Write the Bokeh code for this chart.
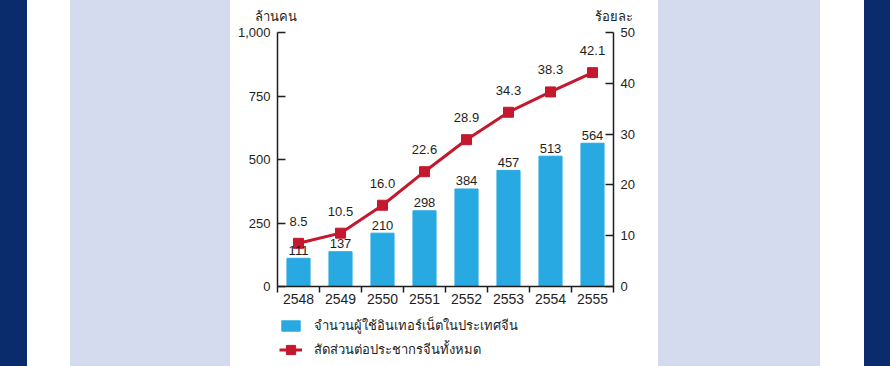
from bokeh.plotting import figure
from bokeh.models import (ColumnDataSource, Range1d, LinearAxis, FixedTicker,
                          NumeralTickFormatter, Label, Legend, LegendItem, Div)
from bokeh.layouts import row
from bokeh.embed import file_html
from bokeh.resources import INLINE
from bokeh.core.properties import value

# ---------------- data ----------------
years = [2548, 2549, 2550, 2551, 2552, 2553, 2554, 2555]
users = [111, 137, 210, 298, 384, 457, 513, 564]          # ล้านคน
share = [8.5, 10.5, 16.0, 22.6, 28.9, 34.3, 38.3, 42.1]   # ร้อยละ
left_ticks = [0, 250, 500, 750, 1000]
right_ticks = [0, 10, 20, 30, 40, 50]
bar_name = "จำนวนผู้ใช้อินเทอร์เน็ตในประเทศจีน"
line_name = "สัดส่วนต่อประชากรจีนทั้งหมด"
left_title = "ล้านคน"
right_title = "ร้อยละ"

# ---------------- style / geometry ----------------
NUM_FONT = "Liberation Sans"
THAI_FONT = "Noto Sans"
NAVY = "#0A2C6C"
LAVENDER = "#D5DBEF"
BLUE = "#29A9E1"
RED = "#C4182F"
INK = "#1E1E1E"
W, H = 428, 366
AX_L, AX_R = 47, 383        # axis x positions inside the chart figure (px)
AX_T, AX_B = 32, 286        # top tick / baseline y positions (px from top)

cat_px = (AX_R - AX_L) / len(years)
x0 = years[0] - 0.5 - AX_L / cat_px
x1 = years[-1] + 0.5 + (W - AX_R) / cat_px
span_px = AX_B - AX_T
yl_lo = left_ticks[0] - (H - AX_B) / span_px * (left_ticks[-1] - left_ticks[0])
yl_hi = left_ticks[-1] + AX_T / span_px * (left_ticks[-1] - left_ticks[0])
yr_lo = right_ticks[0] - (H - AX_B) / span_px * (right_ticks[-1] - right_ticks[0])
yr_hi = right_ticks[-1] + AX_T / span_px * (right_ticks[-1] - right_ticks[0])

src = ColumnDataSource(dict(
    year=years, users=users, share=share,
    users_lbl=[str(v) for v in users],
    share_lbl=[f"{v:.1f}" for v in share],
))

p = figure(width=W, height=H,
           x_range=Range1d(x0, x1), y_range=Range1d(yl_lo, yl_hi),
           output_backend="svg", toolbar_location=None,
           min_border=0, min_border_left=0, min_border_right=0,
           min_border_top=0, min_border_bottom=0)
p.extra_y_ranges = {"pct": Range1d(yr_lo, yr_hi)}
p.outline_line_color = None
p.grid.visible = False
p.background_fill_color = "white"
p.border_fill_color = "white"

# axes
xa = p.xaxis[0]
xa.fixed_location = left_ticks[0]
xa.bounds = (years[0] - 0.5, years[-1] + 0.5)
xa.ticker = FixedTicker(ticks=years,
                        minor_ticks=[y - 0.5 for y in years] + [years[-1] + 0.5])
xa.major_tick_in = 0
xa.major_tick_out = 0
xa.minor_tick_in = 0
xa.minor_tick_out = 6
xa.major_label_standoff = 1
xa.major_label_text_font_size = "14px"

ya = p.yaxis[0]
ya.fixed_location = years[0] - 0.5
ya.bounds = (left_ticks[0], left_ticks[-1])
ya.ticker = FixedTicker(ticks=left_ticks)
ya.formatter = NumeralTickFormatter(format="0,0")
ya.major_tick_in = 8
ya.major_tick_out = 0
ya.minor_tick_in = 0
ya.minor_tick_out = 0
ya.major_label_standoff = 7
ya.major_label_text_font_size = "13px"

ra = LinearAxis(y_range_name="pct", ticker=FixedTicker(ticks=right_ticks))
ra.fixed_location = years[-1] + 0.5
ra.bounds = (right_ticks[0], right_ticks[-1])
ra.major_tick_in = 8
ra.major_tick_out = 0
ra.minor_tick_in = 0
ra.minor_tick_out = 0
ra.major_label_standoff = 7
ra.major_label_text_font_size = "13px"
p.add_layout(ra, "right")

for ax in (xa, ya, ra):
    ax.axis_line_color = INK
    ax.axis_line_width = 1.5
    ax.major_tick_line_color = INK
    ax.major_tick_line_width = 1.5
    ax.minor_tick_line_color = INK
    ax.minor_tick_line_width = 1.5
    ax.major_label_text_font = NUM_FONT
    ax.major_label_text_color = INK

# glyphs
bars = p.vbar(x="year", top="users", width=0.55, source=src,
              fill_color=BLUE, line_color=BLUE)
ln = p.line(x="year", y="share", y_range_name="pct", source=src,
            line_color=RED, line_width=3)
pts = p.scatter(x="year", y="share", y_range_name="pct", source=src,
                marker="square", size=10, fill_color=RED, line_color=RED)

p.text(x="year", y="users", text="users_lbl", source=src,
       text_align="center", text_baseline="alphabetic", y_offset=-8,
       text_font=value(NUM_FONT), text_font_size="13px", text_color=INK)
p.text(x="year", y="share", text="share_lbl", source=src, y_range_name="pct",
       text_align="center", text_baseline="alphabetic", y_offset=-22,
       text_font=value(NUM_FONT), text_font_size="13px", text_color=INK)

# axis titles
p.add_layout(Label(x=years[0] - 0.5, y=left_ticks[-1], x_offset=-2, y_offset=17,
                   text=left_title, text_align="center", text_baseline="alphabetic",
                   text_font=THAI_FONT, text_font_size="13px", text_color=INK))
p.add_layout(Label(x=years[-1] + 0.5, y=left_ticks[-1], x_offset=0, y_offset=17,
                   text=right_title, text_align="center", text_baseline="alphabetic",
                   text_font=THAI_FONT, text_font_size="13px", text_color=INK))

# legends
def make_legend(items, loc, gh):
    return Legend(items=items, location=loc, orientation="vertical",
                  glyph_width=23, glyph_height=gh, label_height=gh,
                  label_standoff=12, padding=0, margin=0, spacing=0,
                  border_line_color=None, background_fill_alpha=0,
                  label_text_font=THAI_FONT, label_text_font_size="13px",
                  label_text_color=INK)

p.add_layout(make_legend([LegendItem(label=bar_name, renderers=[bars])],
                         (AX_L + 2, H - 336), 13))
p.add_layout(make_legend([LegendItem(label=line_name, renderers=[ln, pts])],
                         (AX_L + 2, H - 362), 25))

def band(w, c):
    return Div(text="", width=w, height=H, margin=0,
               styles={"background-color": c})

layout = row([band(27, NAVY), band(43, "white"), band(160, LAVENDER), p,
              band(162, LAVENDER), band(44, "white"), band(26, NAVY)], spacing=0)

open("out.html", "w").write(file_html(layout, INLINE))
